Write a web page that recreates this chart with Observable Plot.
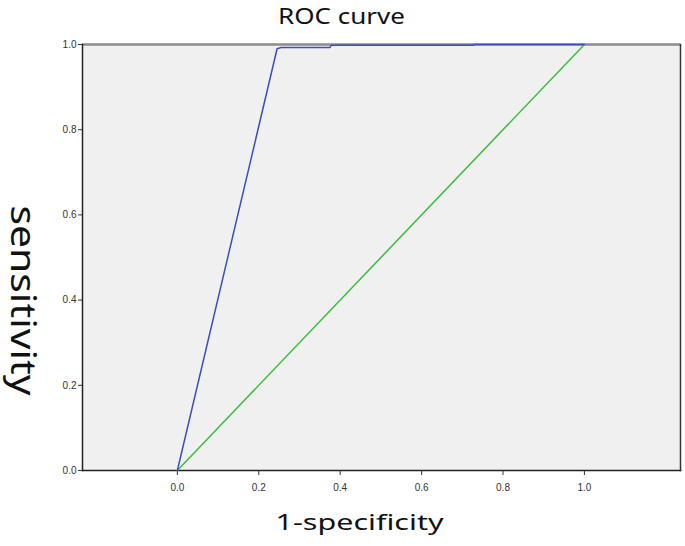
<!DOCTYPE html>
<html>
<head>
<meta charset="utf-8">
<script src="https://cdn.jsdelivr.net/npm/d3@7"></script>
<script src="https://cdn.jsdelivr.net/npm/@observablehq/plot@0.6"></script>
<style>
  html, body { margin: 0; padding: 0; background: #fff; }
  #chart svg { display: block; }
</style>
</head>
<body>
<div id="chart"></div>
<script>
// ROC curve points (1-specificity, sensitivity)
const rocFpr = [0, 0.245, 0.255, 0.375, 0.378, 0.727, 0.73, 1.0];
const rocTpr = [0, 0.990, 0.993, 0.993, 0.998, 0.998, 1.0, 1.0];
// Reference (diagonal) line
const refX = [0, 1];
const refY = [0, 1];
const tickValues = [0, 0.2, 0.4, 0.6, 0.8, 1.0];
const titleText = "ROC curve";
const xTitle = "1-specificity";
const yTitle = "sensitivity";

const roc = rocFpr.map((x, i) => ({x, y: rocTpr[i]}));
const ref = refX.map((x, i) => ({x, y: refY[i]}));

const font = "'Noto Sans', 'DejaVu Sans', sans-serif";

const chart = Plot.plot({
  width: 685,
  height: 546,
  marginTop: 44,
  marginLeft: 82,
  marginRight: 5,
  marginBottom: 76,
  style: {fontFamily: "Arial, 'Liberation Sans', sans-serif", background: "#fff"},
  x: {domain: [-0.233, 1.236], axis: null},
  y: {domain: [0, 1], axis: null},
  marks: [
    Plot.frame({fill: "#f0f0f0", stroke: "none"}),
    Plot.ruleY([1], {stroke: "#8c8c8c", strokeWidth: 2.5}),
    Plot.frame({anchor: "right", stroke: "#333", strokeWidth: 1.5}),
    Plot.frame({anchor: "left", stroke: "#222", strokeWidth: 1.5}),
    Plot.frame({anchor: "bottom", stroke: "#222", strokeWidth: 1.5}),
    Plot.axisX({ticks: tickValues, tickFormat: d3.format(".1f"), tickSize: 5, tickPadding: 8, fontSize: 10, color: "#333", label: null}),
    Plot.axisY({ticks: tickValues, tickFormat: d3.format(".1f"), tickSize: 4, tickPadding: 2, fontSize: 10, color: "#333", label: null}),
    Plot.line(ref, {x: "x", y: "y", stroke: "#3cbc3c", strokeWidth: 1.5}),
    Plot.line(roc, {x: "x", y: "y", stroke: "#3a4fb8", strokeWidth: 1.5}),
    Plot.text([titleText], {frameAnchor: "top", textAnchor: "middle", lineAnchor: "middle", dx: -40, dy: -28, fontSize: 22, fontFamily: font, fill: "#111"}),
    Plot.text([xTitle], {frameAnchor: "bottom", textAnchor: "middle", lineAnchor: "middle", dx: -22, dy: 53, fontSize: 21, fontFamily: font, fill: "#111"}),
    Plot.text([yTitle], {frameAnchor: "left", textAnchor: "middle", lineAnchor: "middle", dx: -60, dy: 43, rotate: 90, fontSize: 35, fontFamily: font, fill: "#111"})
  ]
});
// stretch titles to the reference's text widths
const lengths = {[titleText]: 127, [xTitle]: 168, [yTitle]: 190};
d3.select(chart).selectAll("text").each(function() {
  const t = this.textContent;
  if (lengths[t]) {
    d3.select(this).attr("textLength", lengths[t]).attr("lengthAdjust", "spacingAndGlyphs");
  }
});
document.getElementById("chart").appendChild(chart);
</script>
</body>
</html>
